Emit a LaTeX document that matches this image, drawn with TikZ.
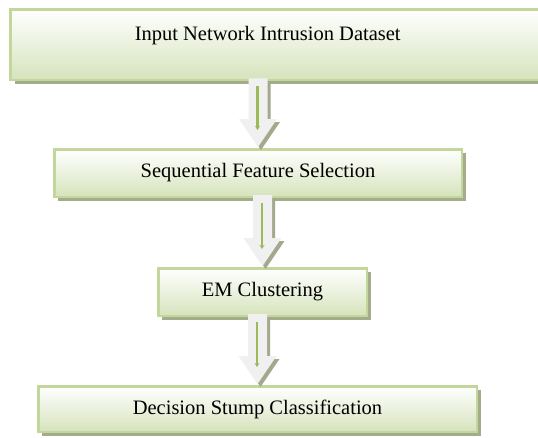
\documentclass[tikz,border=0pt]{standalone}
\usepackage{fontspec}
\setmainfont{Liberation Serif}
\usetikzlibrary{shadows,arrows.meta,calc}

\definecolor{boxborder}{HTML}{C3D69B}
\definecolor{boxbottom}{HTML}{D6E3BC}
\definecolor{boxmid}{HTML}{EEF3E3}
\definecolor{boxshadow}{HTML}{A3AC8B}
\definecolor{arrowbody}{HTML}{F0F0F0}
\definecolor{arrowshadow}{HTML}{A2A98D}
\definecolor{arrowline}{HTML}{9BBB59}

\tikzset{
  stagebox/.style={
    draw=boxborder, line width=2.5pt,
    top color=white, middle color=boxmid, bottom color=boxbottom,
    drop shadow={shadow xshift=4pt, shadow yshift=-4pt, fill=boxshadow, opacity=1},
    inner sep=0pt, font=\fontsize{20.5}{24}\selectfont, text=black
  },
  innerline/.style={draw=arrowline, line width=2.3pt,
    -{Stealth[length=4pt,width=5pt]}}
}

% Hollow block arrow from the bottom of one stage to the top of the next
\newcommand\flowarrow[2]{%
  \path[fill=arrowshadow] let \p1=(#1.south), \p2=(#2.north) in
    (\x2-6.5pt,\y1) -- (\x2+12.5pt,\y1) -- (\x2+12.5pt,\y2+26pt)
    -- (\x2+22pt,\y2+26pt) -- (\x2+3pt,\y2-2pt) -- (\x2-16pt,\y2+26pt)
    -- (\x2-6.5pt,\y2+26pt) -- cycle;
  \path[fill=arrowbody] let \p1=(#1.south), \p2=(#2.north) in
    (\x2-9.5pt,\y1+3pt) -- (\x2+9.5pt,\y1+3pt) -- (\x2+9.5pt,\y2+29pt)
    -- (\x2+19pt,\y2+29pt) -- (\x2,\y2+1pt) -- (\x2-19pt,\y2+29pt)
    -- (\x2-9.5pt,\y2+29pt) -- cycle;
  \draw[innerline] let \p1=(#1.south), \p2=(#2.north) in
    (\x2-0.5pt,\y1-5pt) -- (\x2-0.5pt,\y2+18pt);
}

\begin{document}
\begin{tikzpicture}[x=1pt,y=-1pt]
\useasboundingbox (0,0) rectangle (538,437);

\node (input) [stagebox, anchor=north west, text height=30.75pt, text depth=39.75pt]
  at (9.25,8.25) {\makebox[554.5pt][l]{\makebox[514.5pt]{Input Network Intrusion Dataset}}};

\node (sfs) [stagebox, minimum width=407.5pt, minimum height=47.5pt]
  at (258,173) {Sequential Feature Selection};

\node (em) [stagebox, minimum width=208.5pt, minimum height=47.5pt]
  at (262.5,292) {EM Clustering};

\node (dsc) [stagebox, minimum width=438.5pt, minimum height=45.5pt]
  at (257.5,409) {Decision Stump Classification};

\flowarrow{input}{sfs}
\flowarrow{sfs}{em}
\flowarrow{em}{dsc}
\end{tikzpicture}
\end{document}
